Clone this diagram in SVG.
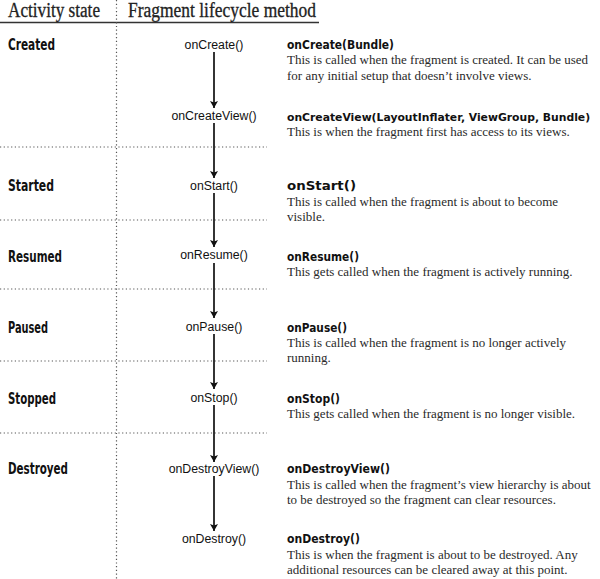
<svg xmlns="http://www.w3.org/2000/svg" width="600" height="579" viewBox="0 0 600 579">
<defs>
<style>
.hdr{font-family:"Liberation Serif",serif;font-size:20px;fill:#222;stroke:#222;stroke-width:0.3}
.state{font-family:"DejaVu Sans Condensed","Liberation Sans",sans-serif;font-stretch:condensed;font-weight:bold;font-size:16px;fill:#111}
.meth{font-family:"Liberation Sans",Arial,sans-serif;font-size:12.3px;fill:#111;text-anchor:middle}
.title{font-family:"DejaVu Sans",sans-serif;font-weight:bold;font-size:12px;fill:#111}
.desc{font-family:"Liberation Serif",serif;font-size:13px;fill:#2a2a2a}
.dot{stroke:#555;stroke-width:1.2;stroke-dasharray:1.2 2.5;fill:none}
.arrow{stroke:#111;stroke-width:1.7;fill:none;marker-end:url(#ah)}
</style>
<marker id="ah" markerUnits="userSpaceOnUse" markerWidth="10" markerHeight="10" viewBox="-8 -5 10 10" refX="0" refY="0" orient="auto">
<path d="M0,0 L-7,-4 L-5.5,0 L-7,4 z" fill="#111"/>
</marker>
</defs>
<rect width="600" height="579" fill="#fff"/>

<g id="grid">
<line x1="0" y1="22.5" x2="319" y2="22.5" stroke="#333" stroke-width="1.5"/>
<line class="dot" x1="116.5" y1="0" x2="116.5" y2="579"/>
<line class="dot" x1="0" y1="147" x2="267" y2="147"/>
<line class="dot" x1="0" y1="220" x2="267" y2="220"/>
<line class="dot" x1="0" y1="289" x2="267" y2="289"/>
<line class="dot" x1="0" y1="361" x2="267" y2="361"/>
<line class="dot" x1="0" y1="433" x2="267" y2="433"/>
</g>

<g id="headers">
<text class="hdr" x="8" y="17" textLength="92" lengthAdjust="spacingAndGlyphs">Activity state</text>
<text class="hdr" x="128" y="17" textLength="188" lengthAdjust="spacingAndGlyphs">Fragment lifecycle method</text>
</g>

<g id="states">
<g id="state-created"><text class="state" x="8" y="50" textLength="47" lengthAdjust="spacingAndGlyphs">Created</text></g>
<g id="state-started"><text class="state" x="8" y="191" textLength="46" lengthAdjust="spacingAndGlyphs">Started</text></g>
<g id="state-resumed"><text class="state" x="8" y="262" textLength="54" lengthAdjust="spacingAndGlyphs">Resumed</text></g>
<g id="state-paused"><text class="state" x="8" y="333" textLength="40" lengthAdjust="spacingAndGlyphs">Paused</text></g>
<g id="state-stopped"><text class="state" x="8" y="404" textLength="48" lengthAdjust="spacingAndGlyphs">Stopped</text></g>
<g id="state-destroyed"><text class="state" x="8" y="474" textLength="60" lengthAdjust="spacingAndGlyphs">Destroyed</text></g>
</g>

<g id="connectors">
<line class="arrow" x1="214" y1="52" x2="214" y2="108"/>
<line class="arrow" x1="214" y1="123" x2="214" y2="178"/>
<line class="arrow" x1="214" y1="193" x2="214" y2="247"/>
<line class="arrow" x1="214" y1="263" x2="214" y2="318"/>
<line class="arrow" x1="214" y1="334" x2="214" y2="389"/>
<line class="arrow" x1="214" y1="405" x2="214" y2="462"/>
<line class="arrow" x1="214" y1="476" x2="214" y2="531"/>
</g>

<g id="methods">
<g id="m-oncreate"><text class="meth" x="214" y="48.5">onCreate()</text></g>
<g id="m-oncreateview"><text class="meth" x="214" y="120">onCreateView()</text></g>
<g id="m-onstart"><text class="meth" x="214" y="189.5">onStart()</text></g>
<g id="m-onresume"><text class="meth" x="214" y="259">onResume()</text></g>
<g id="m-onpause"><text class="meth" x="214" y="330.5">onPause()</text></g>
<g id="m-onstop"><text class="meth" x="214" y="401.5">onStop()</text></g>
<g id="m-ondestroyview"><text class="meth" x="214" y="472.5">onDestroyView()</text></g>
<g id="m-ondestroy"><text class="meth" x="214" y="543">onDestroy()</text></g>
</g>

<g id="descriptions">
<g id="d-oncreate">
<text class="title" x="287" y="48.5" textLength="107" lengthAdjust="spacingAndGlyphs">onCreate(Bundle)</text>
<text class="desc" x="287" y="64">This is called when the fragment is created. It can be used</text>
<text class="desc" x="287" y="79.5">for any initial setup that doesn’t involve views.</text>
</g>
<g id="d-oncreateview">
<text class="title" x="287" y="120.5" style="font-size:10.8px">onCreateView(LayoutInflater, ViewGroup, Bundle)</text>
<text class="desc" x="287" y="135.5">This is when the fragment first has access to its views.</text>
</g>
<g id="d-onstart">
<text class="title" x="287" y="189.5" textLength="69" lengthAdjust="spacingAndGlyphs">onStart()</text>
<text class="desc" x="287" y="205.5">This is called when the fragment is about to become</text>
<text class="desc" x="287" y="221">visible.</text>
</g>
<g id="d-onresume">
<text class="title" x="287" y="260.5" textLength="72" lengthAdjust="spacingAndGlyphs">onResume()</text>
<text class="desc" x="287" y="276">This gets called when the fragment is actively running.</text>
</g>
<g id="d-onpause">
<text class="title" x="287" y="331.5" textLength="60" lengthAdjust="spacingAndGlyphs">onPause()</text>
<text class="desc" x="287" y="346.5">This is called when the fragment is no longer actively</text>
<text class="desc" x="287" y="362">running.</text>
</g>
<g id="d-onstop">
<text class="title" x="287" y="402.5" textLength="53" lengthAdjust="spacingAndGlyphs">onStop()</text>
<text class="desc" x="287" y="417.5">This gets called when the fragment is no longer visible.</text>
</g>
<g id="d-ondestroyview">
<text class="title" x="287" y="472.5" textLength="103" lengthAdjust="spacingAndGlyphs">onDestroyView()</text>
<text class="desc" x="287" y="488.5">This is called when the fragment’s view hierarchy is about</text>
<text class="desc" x="287" y="503.5">to be destroyed so the fragment can clear resources.</text>
</g>
<g id="d-ondestroy">
<text class="title" x="287" y="543" textLength="73" lengthAdjust="spacingAndGlyphs">onDestroy()</text>
<text class="desc" x="287" y="559">This is when the fragment is about to be destroyed. Any</text>
<text class="desc" x="287" y="574">additional resources can be cleared away at this point.</text>
</g>
</g>
</svg>
